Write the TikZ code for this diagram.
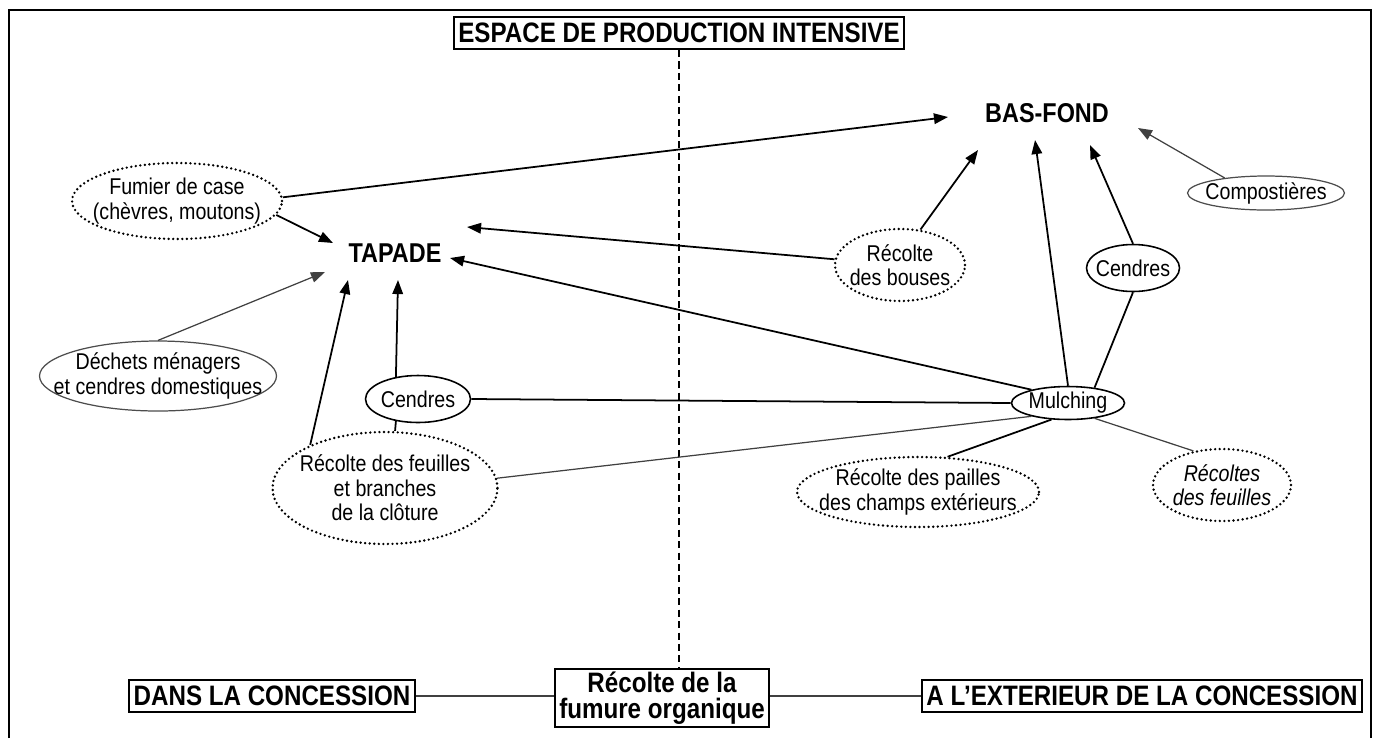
\documentclass[tikz,border=0pt]{standalone}
\usepackage{fontspec}
\setmainfont{Liberation Sans}[FakeStretch=0.86]
\usetikzlibrary{shapes.geometric,arrows.meta,calc}
\begin{document}
\begin{tikzpicture}[x=0.02cm,y=-0.02cm,
  oval/.style={ellipse, draw, line width=0.9pt, inner sep=0pt},
  lightoval/.style={ellipse, draw=black!70, line width=0.7pt, inner sep=0pt},
  dotoval/.style={ellipse, draw, line width=1.5pt, dash pattern=on 0pt off 2.6pt, line cap=round, inner sep=0pt},
  txt/.style={font=\fontsize{13}{14}\selectfont, align=center, inner sep=0pt},
  bigbold/.style={font=\fontsize{15.5}{16}\selectfont\bfseries, inner sep=1pt},
  box/.style={draw, line width=1.1pt, inner xsep=2.5pt, inner ysep=3.5pt, align=center, font=\fontsize{16}{17}\selectfont\bfseries},
  arr/.style={line width=1pt, -{Triangle[length=8pt,width=6pt]}},
  arrthin/.style={line width=0.7pt, draw=black!75, -{Triangle[length=8pt,width=6pt]}},
  ln/.style={line width=1pt},
  lnthin/.style={line width=0.7pt, draw=black!75},
  dashline/.style={line width=1.1pt, dash pattern=on 4pt off 2.5pt}
]
\useasboundingbox (0,0) rectangle (1378,738);
\fill[white] (0,0) rectangle (1378,738);
\draw[line width=1.3pt] (9,738) -- (9,10) -- (1371,10) -- (1371,738);

% boxes
\node[box] (espace) at (679,33) {ESPACE DE PRODUCTION INTENSIVE};
\node[box] (dans) at (272,696) {DANS LA CONCESSION};
\node[box, inner ysep=1.5pt, font=\fontsize{16}{15}\selectfont\bfseries] (recolte) at (662,698) {Récolte de la\\fumure organique};
\node[box] (ext) at (1142,696) {A L'EXTERIEUR DE LA CONCESSION};

% main places
\node[bigbold] (tapade) at (395,253) {TAPADE};
\node[bigbold] (basfond) at (1047,113) {BAS-FOND};

% ovals
\node[dotoval, minimum width=4.2cm, minimum height=1.52cm,
  label={[txt]center:{Fumier de case\\(chèvres, moutons)}}] (fumier) at (177,201) {};
\node[lightoval, minimum width=4.74cm, minimum height=1.4cm,
  label={[txt]center:{Déchets ménagers\\et cendres domestiques}}] (dechets) at (158,376) {};
\node[oval, minimum width=2.1cm, minimum height=0.94cm,
  label={[txt]center:{Cendres}}] (cendresL) at (418,399) {};
\node[dotoval, minimum width=4.5cm, minimum height=2.24cm,
  label={[txt]center:{Récolte des feuilles\\et branches\\de la clôture}}] (feuilles) at (385,488) {};
\node[dotoval, minimum width=2.6cm, minimum height=1.44cm,
  label={[txt]center:{Récolte\\des bouses}}] (bouses) at (900,265) {};
\node[oval, minimum width=1.86cm, minimum height=0.94cm,
  label={[txt]center:{Cendres}}] (cendresR) at (1133,268) {};
\node[lightoval, minimum width=3.14cm, minimum height=0.68cm,
  label={[txt]center:{Compostières}}] (compost) at (1266,193) {};
\node[oval, minimum width=2.26cm, minimum height=0.66cm,
  label={[txt]center:{Mulching}}] (mulching) at (1068,403) {};
\node[dotoval, minimum width=4.84cm, minimum height=1.4cm,
  label={[txt]center:{Récolte des pailles\\des champs extérieurs}}] (pailles) at (918,492) {};
\node[dotoval, minimum width=2.76cm, minimum height=1.44cm,
  label={[txt,font=\fontsize{13}{14}\selectfont\itshape]center:{Récoltes\\des feuilles}}] (recfeuilles) at (1222,485) {};

% vertical dashed separator
\draw[dashline] (espace.south) -- (espace.south |- recolte.north);

% bottom links
\draw[lnthin] (dans.east) -- (dans.east -| recolte.west);
\draw[lnthin] (ext.west -| recolte.east) -- (ext.west);

% arrows to TAPADE
\draw[arr] (fumier.-8) -- ($(tapade)+(-62,-10)$);
\draw[arrthin] (dechets.north) -- ($(tapade)+(-70,19)$);
\draw[arr] (feuilles.150) -- ($(tapade)+(-47,27)$);
\draw[arr] (cendresL.135) -- ($(tapade)+(3,27)$);
\draw[arr] (bouses.175) -- ($(tapade)+(72,-26)$);
\draw[arr] (mulching.160) -- ($(tapade)+(55,5)$);

% arrows to BAS-FOND
\draw[arr] (fumier.2) -- ($(basfond)+(-99,4)$);
\draw[arr] (bouses.60) -- ($(basfond)+(-69,37)$);
\draw[arr] (mulching.north) -- ($(basfond)+(-12,27)$);
\draw[arr] (cendresR.north) -- ($(basfond)+(43,32)$);
\draw[arrthin] (compost.160) -- ($(basfond)+(91,15)$);

% plain links
\draw[ln] (cendresL.-135) -- (feuilles.80);
\draw[ln] (cendresL.east) -- (mulching.west);
\draw[lnthin] (feuilles.5) -- (mulching.200);
\draw[ln] (cendresR.south) -- (mulching.30);
\draw[ln] (pailles.50) -- (mulching.225);
\draw[lnthin] (recfeuilles.130) -- (mulching.-30);
\end{tikzpicture}
\end{document}
